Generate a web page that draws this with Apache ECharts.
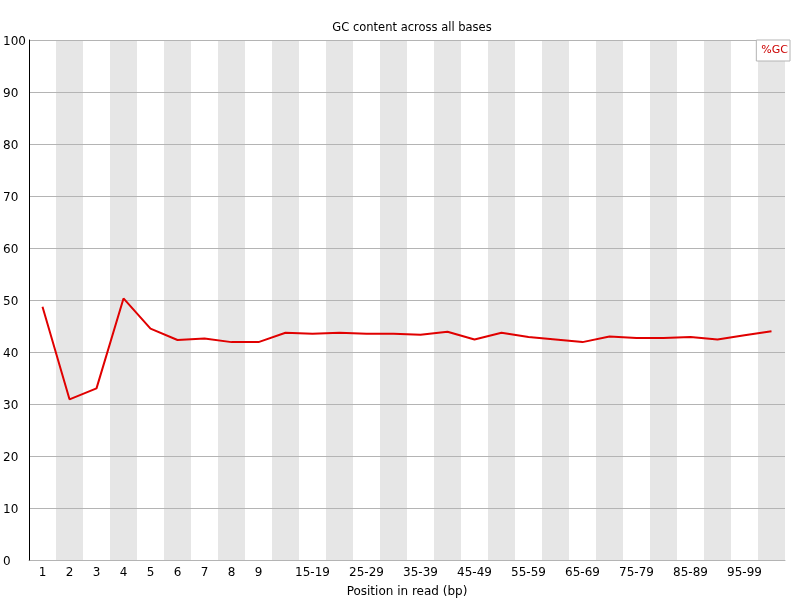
<!DOCTYPE html>
<html>
<head>
<meta charset="utf-8">
<script src="https://cdn.jsdelivr.net/npm/echarts@6/dist/echarts.min.js"></script>
<style>html,body{margin:0;padding:0;background:#fff;overflow:hidden}#c{width:800px;height:600px}</style>
</head>
<body>
<div id="c"></div>
<script>
var categories = ['1','2','3','4','5','6','7','8','9','10-14','15-19','20-24','25-29','30-34','35-39','40-44','45-49','50-54','55-59','60-64','65-69','70-74','75-79','80-84','85-89','90-94','95-99','100-101'];
var gcValues = [48.7,30.9,33.0,50.3,44.5,42.3,42.6,41.9,41.9,43.7,43.5,43.7,43.5,43.5,43.3,43.9,42.4,43.7,42.9,42.4,41.9,43.0,42.7,42.7,42.9,42.4,43.2,44.0];
var yTicks = [0,10,20,30,40,50,60,70,80,90,100];
var seriesName = '%GC';

var font = 'DejaVu Sans';
var chart = echarts.init(document.getElementById('c'), null, {width: 800, height: 600});
chart.setOption({
  animation: false,
  backgroundColor: '#fff',
  title: {
    text: 'GC content across all bases',
    left: 407, top: 17, textAlign: 'center',
    textStyle: {fontFamily: font, fontSize: 11.5, fontWeight: 'normal', color: '#000'}
  },
  legend: {
    data: [{name: seriesName, icon: 'none'}],
    right: 10, top: 40,
    itemWidth: 0, itemHeight: 0, itemGap: 0,
    padding: [5, 2, 5, 0],
    borderColor: '#b4b4b4', borderWidth: 1, backgroundColor: '#fff',
    textStyle: {fontFamily: font, fontSize: 11, color: '#cc0000'}
  },
  grid: {left: 29, top: 40, width: 756, height: 520, containLabel: false, outerBoundsMode: 'none'},
  xAxis: {
    type: 'category',
    data: categories,
    boundaryGap: true,
    name: 'Position in read (bp)',
    nameLocation: 'middle', nameGap: 26,
    nameTextStyle: {fontFamily: font, fontSize: 12, color: '#000'},
    axisLine: {show: true, lineStyle: {color: '#b4b4b4', width: 1}},
    axisTick: {show: false},
    axisLabel: {
      fontFamily: font, fontSize: 12, color: '#000', margin: 7,
      interval: function (i) { return i < 9 || (i >= 10 && i % 2 === 0 && i < 27); }
    },
    splitLine: {show: false},
    splitArea: {show: true, interval: 0, areaStyle: {color: ['#ffffff', '#e6e6e6']}},
    z: 0
  },
  yAxis: {
    type: 'value', min: yTicks[0], max: yTicks[yTicks.length - 1], interval: 10,
    axisLine: {show: true, lineStyle: {color: '#000', width: 1}},
    axisTick: {show: false},
    axisLabel: {fontFamily: font, fontSize: 12, color: '#000', align: 'left', margin: 26, verticalAlign: 'top', lineHeight: 4},
    splitLine: {show: true, lineStyle: {color: '#b4b4b4', width: 1}},
    z: 1
  },
  series: [{
    name: seriesName,
    type: 'line',
    data: gcValues,
    showSymbol: false,
    symbol: 'none',
    lineStyle: {color: '#e00000', width: 2},
    itemStyle: {color: '#e00000'},
    z: 5
  }]
});
</script>
</body>
</html>
